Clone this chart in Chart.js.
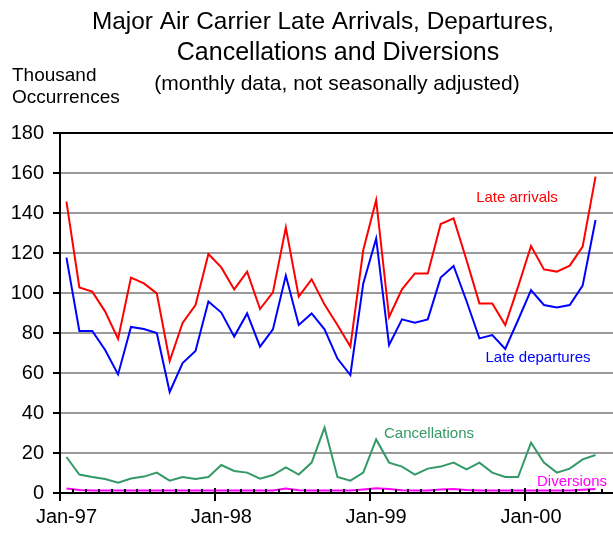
<!DOCTYPE html>
<html>
<head>
<meta charset="utf-8">
<title>Major Air Carrier Late Arrivals, Departures, Cancellations and Diversions</title>
<script src="https://cdn.jsdelivr.net/npm/chart.js@4.4.1/dist/chart.umd.min.js"></script>
<style>
  html, body { margin: 0; padding: 0; background: #fff; overflow: hidden; }
  canvas { display: block; }
</style>
</head>
<body>
<canvas id="delayChart" width="613" height="537"></canvas>
<script>
var months = [
    'Jan-97', 'Feb-97', 'Mar-97', 'Apr-97', 'May-97', 'Jun-97', 'Jul-97', 'Aug-97', 'Sep-97', 'Oct-97', 'Nov-97', 'Dec-97',
    'Jan-98', 'Feb-98', 'Mar-98', 'Apr-98', 'May-98', 'Jun-98', 'Jul-98', 'Aug-98', 'Sep-98', 'Oct-98', 'Nov-98', 'Dec-98',
    'Jan-99', 'Feb-99', 'Mar-99', 'Apr-99', 'May-99', 'Jun-99', 'Jul-99', 'Aug-99', 'Sep-99', 'Oct-99', 'Nov-99', 'Dec-99',
    'Jan-00', 'Feb-00', 'Mar-00', 'Apr-00', 'May-00', 'Jun-00'
];
var shownMonths = ['Jan-97', 'Jan-98', 'Jan-99', 'Jan-00'];

// thousand occurrences
var lateArrivals = [
    145.7, 102.8, 100.7, 90.7, 77.0, 107.7, 104.8, 99.8, 66.0, 85.0, 94.0, 119.5,
    112.8, 101.8, 110.7, 92.0, 100.3, 132.7, 98.2, 106.8, 94.2, 84.0, 73.2, 121.5,
    146.5, 88.0, 101.8, 109.8, 109.8, 134.5, 137.3, 116.5, 94.8, 94.8, 84.0, 103.2,
    123.5, 111.8, 110.7, 113.7, 123.2, 158.2
];
var lateDepartures = [
    117.7, 81.0, 81.0, 71.5, 59.3, 83.0, 82.0, 80.0, 50.5, 65.0, 71.0, 95.7,
    90.2, 78.2, 89.8, 73.2, 81.8, 108.7, 84.0, 89.8, 81.8, 67.2, 59.0, 104.8,
    127.3, 74.0, 86.8, 85.2, 86.8, 107.7, 113.5, 96.0, 77.3, 79.0, 72.0, 86.5,
    101.5, 94.0, 92.8, 94.0, 103.7, 136.5
];
var cancellations = [
    18.0, 9.2, 8.0, 7.0, 5.2, 7.2, 8.2, 10.2, 6.2, 8.0, 7.0, 8.0,
    14.0, 11.0, 10.2, 7.2, 9.0, 12.8, 9.2, 15.2, 32.7, 8.0, 6.2, 10.2,
    26.8, 15.2, 13.2, 9.2, 12.2, 13.2, 15.2, 11.8, 15.2, 10.2, 8.0, 8.0,
    25.2, 15.2, 10.2, 12.2, 16.8, 19.0
];
var diversions = [
    2.3, 1.5, 1.3, 1.3, 1.3, 1.3, 1.3, 1.3, 1.3, 1.3, 1.3, 1.3,
    1.3, 1.3, 1.3, 1.3, 1.3, 2.2, 1.4, 1.3, 1.3, 1.3, 1.3, 1.8,
    2.4, 2.0, 1.4, 1.3, 1.3, 1.8, 2.0, 1.5, 1.3, 1.3, 1.3, 1.3,
    1.3, 1.3, 1.3, 1.3, 1.6, 2.0
];

var FONT = '"Liberation Sans", Arial, sans-serif';
var GRID = '#9a9a9a';

// title lines, axis caption and series labels
var texts = [
    { text: 'Major Air Carrier Late Arrivals, Departures,', x: 323, y: 28.5, size: 24.4, color: '#000', align: 'center' },
    { text: 'Cancellations and Diversions', x: 338, y: 60, size: 25, color: '#000', align: 'center' },
    { text: '(monthly data, not seasonally adjusted)', x: 337, y: 90, size: 21, color: '#000', align: 'center' },
    { text: 'Thousand', x: 12, y: 81, size: 19, color: '#000', align: 'left' },
    { text: 'Occurrences', x: 12, y: 103, size: 19, color: '#000', align: 'left' },
    { text: 'Late arrivals', x: 517, y: 202, size: 15, color: '#ff0000', align: 'center' },
    { text: 'Late departures', x: 538, y: 362, size: 15, color: '#0000ff', align: 'center' },
    { text: 'Cancellations', x: 429, y: 438, size: 15, color: '#339966', align: 'center' },
    { text: 'Diversions', x: 572, y: 486, size: 15, color: '#ff00ff', align: 'center' }
];

var textPlugin = {
    id: 'textPlugin',
    afterDraw: function (chart) {
        var ctx = chart.ctx;
        ctx.save();
        ctx.textBaseline = 'alphabetic';
        texts.forEach(function (t) {
            ctx.font = t.size + 'px ' + FONT;
            ctx.fillStyle = t.color;
            ctx.textAlign = t.align;
            ctx.fillText(t.text, t.x, t.y);
        });
        ctx.restore();
    }
};

// month tick marks on the x axis, and gridlines running on to the right edge
var axisMarks = {
    id: 'axisMarks',
    afterDraw: function (chart) {
        var ctx = chart.ctx;
        var area = chart.chartArea;
        var x = chart.scales.x;
        var y = chart.scales.y;
        var step = x.getPixelForValue(1) - x.getPixelForValue(0);
        ctx.save();
        ctx.lineWidth = 2;
        y.ticks.forEach(function (t) {
            var py = Math.round(y.getPixelForValue(t.value));
            ctx.strokeStyle = (t.value === 0 || t.value === 180) ? '#000' : GRID;
            ctx.beginPath();
            ctx.moveTo(area.right - 1, py);
            ctx.lineTo(chart.width, py);
            ctx.stroke();
        });
        ctx.strokeStyle = '#000';
        for (var i = 0; i <= months.length; i++) {
            var px = Math.round(x.getPixelForValue(i) - step / 2);
            var major = i % 12 === 0;
            ctx.beginPath();
            ctx.moveTo(px, area.bottom - (major ? 5 : 4));
            ctx.lineTo(px, area.bottom + (major ? 8 : 0));
            ctx.stroke();
        }
        ctx.restore();
    }
};

function line(data, color) {
    return {
        data: data,
        borderColor: color,
        backgroundColor: color,
        borderWidth: 2,
        pointRadius: 0,
        tension: 0,
        fill: false
    };
}

new Chart(document.getElementById('delayChart').getContext('2d'), {
    type: 'line',
    data: {
        labels: months,
        datasets: [
            line(lateArrivals, '#ff0000'),
            line(lateDepartures, '#0000ff'),
            line(cancellations, '#339966'),
            line(diversions, '#ff00ff')
        ]
    },
    options: {
        responsive: false,
        animation: false,
        layout: { padding: { top: 133, right: 11, left: 0, bottom: 0 } },
        plugins: {
            legend: { display: false },
            title: { display: false },
            tooltip: { enabled: false }
        },
        scales: {
            x: {
                offset: true,
                afterFit: function (scale) { scale.height = 44; },
                grid: { display: false, drawTicks: false },
                border: { display: true, color: '#000', width: 2 },
                ticks: {
                    autoSkip: false,
                    maxRotation: 0,
                    padding: 12,
                    color: '#000',
                    font: { family: FONT, size: 20 },
                    callback: function (value) {
                        var lab = months[value];
                        return shownMonths.indexOf(lab) >= 0 ? lab : '';
                    }
                }
            },
            y: {
                min: 0,
                max: 180,
                afterFit: function (scale) { scale.width = 60; },
                grid: {
                    color: function (c) {
                        return (c.tick && (c.tick.value === 0 || c.tick.value === 180)) ? '#000' : GRID;
                    },
                    lineWidth: 2,
                    tickColor: '#000',
                    tickLength: 7,
                    tickWidth: 2
                },
                border: { display: true, color: '#000', width: 2 },
                ticks: {
                    stepSize: 20,
                    padding: 9,
                    color: '#000',
                    font: { family: FONT, size: 20 }
                }
            }
        }
    },
    plugins: [axisMarks, textPlugin]
});
</script>
</body>
</html>
